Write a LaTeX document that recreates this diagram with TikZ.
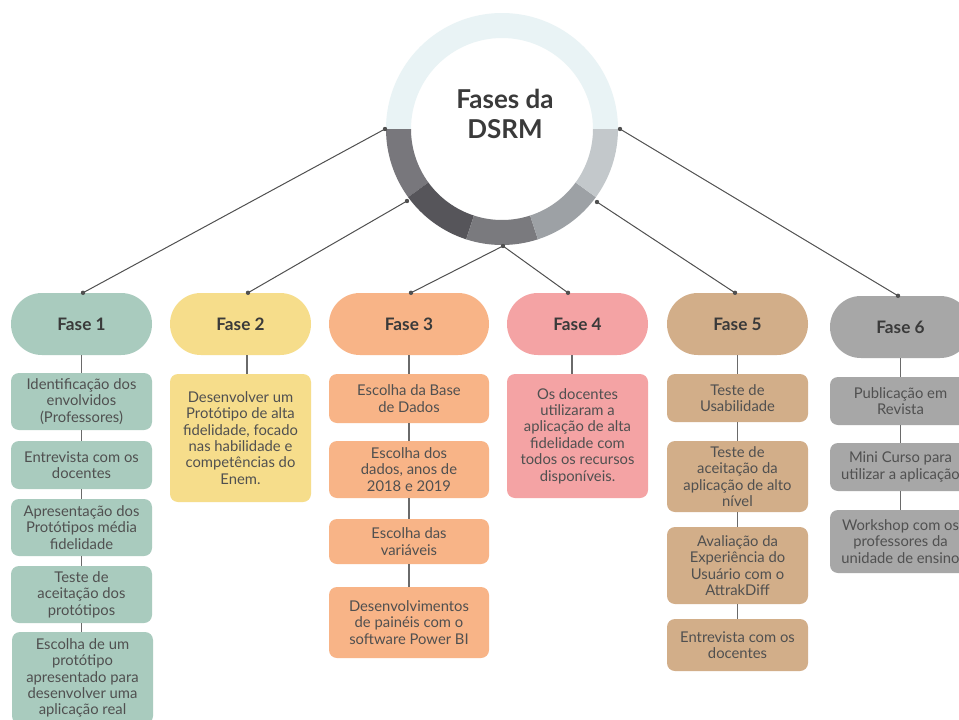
\documentclass[tikz,border=0pt]{standalone}
\usepackage{fontspec}
\setmainfont{Lato}
\usetikzlibrary{calc}

\definecolor{cGreen}{HTML}{A9CBBE}
\definecolor{cYellow}{HTML}{F6DD8B}
\definecolor{cOrange}{HTML}{F8B487}
\definecolor{cPink}{HTML}{F4A3A4}
\definecolor{cTan}{HTML}{D2AE89}
\definecolor{cGray}{HTML}{A7A7A7}
\definecolor{ringTop}{HTML}{E9F3F5}
\definecolor{ringA}{HTML}{78777C}
\definecolor{ringB}{HTML}{56555A}
\definecolor{ringC}{HTML}{7A7A7E}
\definecolor{ringD}{HTML}{9DA1A5}
\definecolor{ringE}{HTML}{C3C8CB}
\definecolor{headText}{HTML}{3A3A3A}
\definecolor{bodyText}{HTML}{505050}
\definecolor{linkLine}{HTML}{505050}
\definecolor{stemLine}{HTML}{6A6A6A}

\begin{document}
\begin{tikzpicture}[x=1pt,y=-1pt,
  pill/.style={rectangle, rounded corners=30.9pt, minimum height=62pt,
    minimum width=141pt, inner sep=0pt, text=headText,
    font=\fontsize{17.2}{20}\selectfont\bfseries},
  card/.style={rectangle, rounded corners=8pt, minimum width=141pt,
    inner sep=0pt, align=center, text=bodyText,
    font=\fontsize{14.8}{16.4}\selectfont},
  wide/.style={minimum width=160pt},
  link/.style={draw=linkLine, line width=1pt},
  stem/.style={draw=stemLine, line width=1.5pt},
  dot/.style={fill=linkLine}
]
\useasboundingbox (0,0) rectangle (959,720);
\clip (0,0) rectangle (959,720);
\fill[white] (0,0) rectangle (959,720);

% ---- central ring ----
\coordinate (ctr) at (502,129);
\def\Ro{116}\def\Ri{91}
\fill[ringTop] ($(ctr)+(180:\Ro)$) arc[start angle=180,end angle=360,radius=\Ro]
  -- ($(ctr)+(360:\Ri)$) arc[start angle=360,end angle=180,radius=\Ri] -- cycle;
\foreach \a/\b/\c in {180/144/ringA,144/108/ringB,108/72/ringC,72/36/ringD,36/0/ringE}{
  \fill[\c] ($(ctr)+(\a:\Ro)$) arc[start angle=\a,end angle=\b,radius=\Ro]
    -- ($(ctr)+(\b:\Ri)$) arc[start angle=\b,end angle=\a,radius=\Ri] -- cycle;
}
\node[align=center, text=headText, font=\fontsize{26}{30}\selectfont\bfseries]
  (title) at (505,114) {Fases da\\DSRM};

% anchor points on the ring
\coordinate (r1) at (385,129);
\coordinate (r2) at (407,201);
\coordinate (r3) at (503,246);
\coordinate (r4) at (597,202);
\coordinate (r5) at (620,129);

% ---- phase headers ----
\node[pill, fill=cGreen]  (h1) at (81.5,324) {Fase 1};
\node[pill, fill=cYellow] (h2) at (240.5,324) {Fase 2};
\node[pill, fill=cOrange, wide] (h3) at (409,324) {Fase 3};
\node[pill, fill=cPink]   (h4) at (577.5,324) {Fase 4};
\node[pill, fill=cTan]    (h5) at (737.5,324) {Fase 5};
\node[pill, fill=cGray]   (h6) at (900.5,327) {Fase 6};

% ---- links from ring to headers ----
\coordinate (t1) at ([xshift=1.5pt]h1.north);
\coordinate (t2) at ([xshift=7.5pt]h2.north);
\coordinate (t3) at ([xshift=2pt]h3.north);
\coordinate (t4) at ([xshift=-9.5pt]h4.north);
\coordinate (t5) at ([xshift=-2.5pt]h5.north);
\coordinate (t6) at ([xshift=-2.5pt]h6.north);
\draw[link] (r1) -- (t1);
\draw[link] (r2) -- (t2);
\draw[link] (r3) -- (t3);
\draw[link] (r3) -- (t4);
\draw[link] (r4) -- (t5);
\draw[link] (r5) -- (t6);
\foreach \p in {r1,r2,r3,r4,r5,t1,t2,t3,t4,t5,t6}
  \fill[dot] (\p) circle[radius=2.2];

% ---- Fase 1 ----
\begin{scope}[every node/.append style={fill=cGreen}]
\node[card, minimum height=57pt]  (a1) at (81.5,401.5) {Identificação dos\\envolvidos\\(Professores)};
\node[card, minimum height=48pt]  (a2) at (81.5,465) {Entrevista com os\\docentes};
\node[card, minimum height=57pt]  (a3) at (81.5,527.5) {Apresentação dos\\Protótipos média\\fidelidade};
\node[card, minimum height=57pt]  (a4) at (81.5,594.5) {Teste de\\aceitação dos\\protótipos};
\node[card, minimum height=92pt] (a5) at (82.5,678) {Escolha de um\\protótipo\\apresentado para\\desenvolver uma\\aplicação real};
\end{scope}

% ---- Fase 2 ----
\node[card, fill=cYellow, minimum height=128pt] (b1) at (240.5,438)
  {Desenvolver um\\Protótipo de alta\\fidelidade, focado\\nas habilidade e\\competências do\\Enem.};

% ---- Fase 3 ----
\begin{scope}[every node/.append style={fill=cOrange}]
\node[card, wide, minimum height=49pt] (c1) at (409,398.5) {Escolha da Base\\de Dados};
\node[card, wide, minimum height=57pt] (c2) at (409,469.5) {Escolha dos\\dados, anos de\\2018 e 2019};
\node[card, wide, minimum height=45pt] (c3) at (409,541.5) {Escolha das\\variáveis};
\node[card, wide, minimum height=71pt] (c4) at (409,622.5) {Desenvolvimentos\\de painéis com o\\software Power BI};
\end{scope}

% ---- Fase 4 ----
\node[card, fill=cPink, minimum height=124pt] (d1) at (577.5,436)
  {Os docentes\\utilizaram a\\aplicação de alta\\fidelidade com\\todos os recursos\\disponíveis.};

% ---- Fase 5 ----
\begin{scope}[every node/.append style={fill=cTan}]
\node[card, minimum height=48pt] (e1) at (737.5,398) {Teste de\\Usabilidade};
\node[card, minimum height=71pt] (e2) at (737.5,476.5) {Teste de\\aceitação da\\aplicação de alto\\nível};
\node[card, minimum height=77pt] (e3) at (737.5,565.5) {Avaliação da\\Experiência do\\Usuário com o\\AttrakDiff};
\node[card, minimum height=52pt] (e4) at (737.5,645) {Entrevista com os\\docentes};
\end{scope}

% ---- Fase 6 ----
\begin{scope}[every node/.append style={fill=cGray}]
\node[card, minimum height=48pt] (f1) at (900.5,401) {Publicação em\\Revista};
\node[card, minimum height=48pt] (f2) at (900.5,467) {Mini Curso para\\utilizar a aplicação};
\node[card, minimum height=63pt] (f3) at (900.5,541.5) {Workshop com os\\professores da\\unidade de ensino};
\end{scope}

% ---- vertical stems between header and cards ----
\draw[stem] (h1.south) -- (a1.north);
\draw[stem] (a1.south) -- (a2.north);
\draw[stem] (a2.south) -- (a3.north);
\draw[stem] (a3.south) -- (a4.north);
\draw[stem] (a4.south) -- (a4.south |- a5.north);
\draw[stem] ([xshift=6.5pt]h2.south) -- ([xshift=6.5pt]b1.north);
\draw[stem] (h3.south) -- (c1.north);
\draw[stem] (c1.south) -- (c2.north);
\draw[stem] (c2.south) -- (c3.north);
\draw[stem] (c3.south) -- (c4.north);
\draw[stem] ([xshift=-5.5pt]h4.south) -- ([xshift=-5.5pt]d1.north);
\draw[stem] (h5.south) -- (e1.north);
\draw[stem] (e1.south) -- (e2.north);
\draw[stem] (e2.south) -- (e3.north);
\draw[stem] (e3.south) -- (e4.north);
\draw[stem] (h6.south) -- (f1.north);
\draw[stem] (f1.south) -- (f2.north);
\draw[stem] (f2.south) -- (f3.north);
\end{tikzpicture}
\end{document}
